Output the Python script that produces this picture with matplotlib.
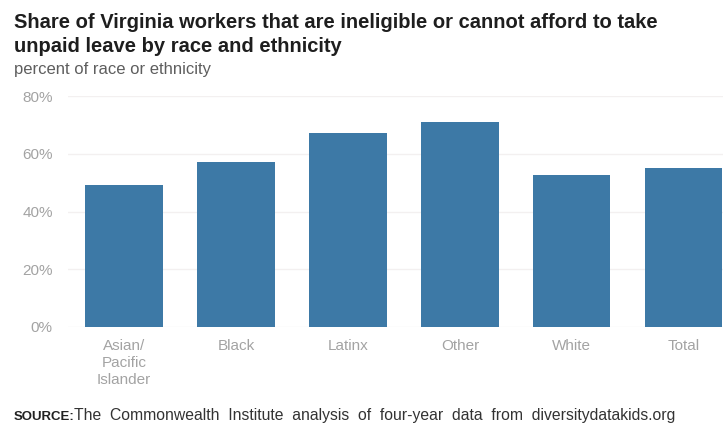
import matplotlib.pyplot as plt
from matplotlib.ticker import FuncFormatter

# values (percent)
groups = ['Asian/\nPacific\nIslander', 'Black', 'Latinx', 'Other', 'White', 'Total']
share = [49.2, 57.1, 67.2, 71.0, 52.6, 55.1]
y_ticks = [0, 20, 40, 60, 80]

plt.rcParams['font.family'] = ['Liberation Sans', 'DejaVu Sans']

fig = plt.figure(figsize=(7.27, 4.25), dpi=100)
# plot area: 0% at y=327px, 80% at y=96px, first bar centre x~124px
ax = fig.add_axes([68 / 727, 98 / 425, 655 / 727, 231 / 425])

ax.bar(range(len(groups)), share, width=0.69, color='#3d79a6', zorder=2)

ax.set_xlim(-0.5, 5.35)
ax.set_ylim(0, 80)
ax.set_yticks(y_ticks)
ax.yaxis.set_major_formatter(FuncFormatter(lambda v, p: f'{v:.0f}%'))
ax.set_xticks(range(len(groups)))
ax.set_xticklabels(groups, linespacing=1.25)
ax.tick_params(axis='both', length=0, labelsize=11, colors='#a3a3a3')
ax.tick_params(axis='y', pad=11)
ax.tick_params(axis='x', pad=9)
ax.grid(axis='y', color='#f3f0f0', linewidth=1, zorder=0)
for s in ax.spines.values():
    s.set_visible(False)

# titles
fig.text(14 / 727, 1 - 28 / 425, 'Share of Virginia workers that are ineligible or cannot afford to take',
         fontsize=14.5, fontweight='bold', color='#1e1e1e', va='baseline')
fig.text(14 / 727, 1 - 52 / 425, 'unpaid leave by race and ethnicity',
         fontsize=14.5, fontweight='bold', color='#1e1e1e', va='baseline')
fig.text(14 / 727, 1 - 74 / 425, 'percent of race or ethnicity',
         fontsize=12, color='#5e5e5e', va='baseline')

# source line
fig.text(14 / 727, 1 - 420 / 425, 'SOURCE:', fontsize=9.5, fontweight='bold',
         color='#222222', va='baseline')
fig.text(74 / 727, 1 - 420 / 425,
         'The  Commonwealth  Institute  analysis  of  four-year  data  from  diversitydatakids.org',
         fontsize=11.3, color='#333333', va='baseline')

fig.savefig('out.png', dpi=100)
